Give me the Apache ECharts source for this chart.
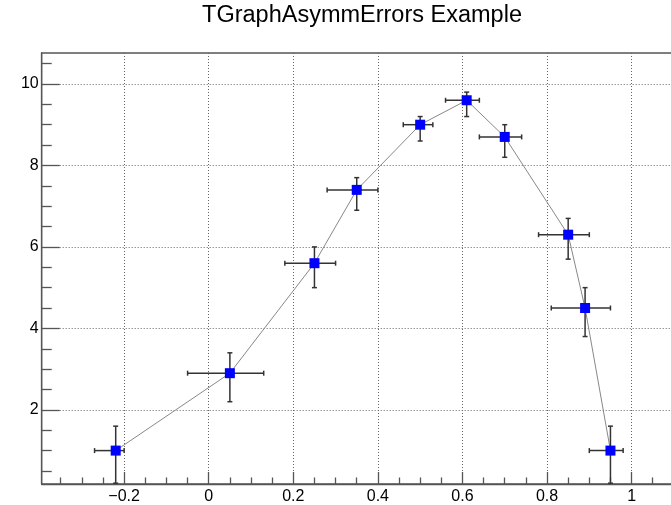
<!DOCTYPE html>
<html>
<head>
<meta charset="utf-8">
<script src="https://cdn.jsdelivr.net/npm/echarts@6/dist/echarts.min.js"></script>
<style>
  html, body { margin: 0; padding: 0; background: #fff; overflow: hidden; }
  #chart { width: 680px; height: 505px; }
</style>
</head>
<body>
<div id="chart"></div>
<script>
// Graph points with asymmetric errors
const titleText = 'TGraphAsymmErrors Example';
const xValues  = [-0.22, 0.05, 0.25, 0.35, 0.5, 0.61, 0.7, 0.85, 0.89, 0.95];
const yValues  = [1, 2.9, 5.6, 7.4, 9, 9.6, 8.7, 6.3, 4.5, 1];
const xErrLow  = [0.05, 0.1, 0.07, 0.07, 0.04, 0.05, 0.06, 0.07, 0.08, 0.05];
const xErrHigh = [0.02, 0.08, 0.05, 0.05, 0.03, 0.03, 0.04, 0.05, 0.06, 0.03];
const yErrLow  = [0.8, 0.7, 0.6, 0.5, 0.4, 0.4, 0.5, 0.6, 0.7, 0.8];
const yErrHigh = [0.6, 0.5, 0.4, 0.3, 0.2, 0.2, 0.3, 0.4, 0.5, 0.6];

// Axis ticks
const xMajorTicks = [-0.2, 0, 0.2, 0.4, 0.6, 0.8, 1];
const xMinorTicks = [-0.35, -0.3, -0.25, -0.15, -0.1, -0.05, 0.05, 0.1, 0.15,
                     0.25, 0.3, 0.35, 0.45, 0.5, 0.55, 0.65, 0.7, 0.75,
                     0.85, 0.9, 0.95, 1.05, 1.1];
const yMajorTicks = [2, 4, 6, 8, 10];
const yMinorTicks = [0.5, 1, 1.5, 2.5, 3, 3.5, 4.5, 5, 5.5, 6.5, 7, 7.5,
                     8.5, 9, 9.5, 10.5];

// Frame range
const xRange = [-0.395, 1.105];
const yRange = [0.18, 10.76];

const FONT = '"Liberation Sans", Arial, Helvetica, sans-serif';
const AXIS_COLOR = '#555';

const points = xValues.map((x, i) => [x, yValues[i]]);
const errorData = xValues.map((x, i) =>
  [x, yValues[i], xErrLow[i], xErrHigh[i], yErrLow[i], yErrHigh[i]]);

const fmt = v => String(v).replace('-', '\u2212');

function errorBars(params, api) {
  const x = api.value(0), y = api.value(1);
  const c = api.coord([x, y]);
  const left = api.coord([x - api.value(2), y]);
  const right = api.coord([x + api.value(3), y]);
  const low = api.coord([x, y - api.value(4)]);
  const high = api.coord([x, y + api.value(5)]);
  const cap = 2.5;
  const st = { stroke: '#333', lineWidth: 1.5 };
  const seg = (x1, y1, x2, y2) => ({ type: 'line', shape: { x1, y1, x2, y2 }, style: st });
  return {
    type: 'group',
    children: [
      seg(left[0], c[1], right[0], c[1]),
      seg(c[0], low[1], c[0], high[1]),
      seg(left[0], c[1] - cap, left[0], c[1] + cap),
      seg(right[0], c[1] - cap, right[0], c[1] + cap),
      seg(c[0] - cap, low[1], c[0] + cap, low[1]),
      seg(c[0] - cap, high[1], c[0] + cap, high[1])
    ]
  };
}

const chart = echarts.init(document.getElementById('chart'), null, { renderer: 'canvas' });

const tickLine = { color: AXIS_COLOR, width: 1.3 };

chart.setOption({
  animation: false,
  backgroundColor: '#fff',
  graphic: [{
    type: 'text',
    x: 362, y: 16,
    style: {
      text: titleText,
      font: '23.5px ' + FONT,
      fill: '#000',
      textAlign: 'center',
      textVerticalAlign: 'middle'
    }
  }],
  grid: {
    left: 41.7, top: 53, width: 634.3, height: 433,
    show: true, borderColor: AXIS_COLOR, borderWidth: 1.3, backgroundColor: 'transparent'
  },
  xAxis: [{
    type: 'value', min: xRange[0], max: xRange[1],
    axisLine: { onZero: false, lineStyle: tickLine },
    axisTick: { inside: true, length: 12, customValues: xMajorTicks, lineStyle: tickLine },
    axisLabel: { customValues: xMajorTicks, formatter: fmt, margin: 5,
                 color: '#000', fontSize: 16, fontFamily: FONT },
    splitLine: { show: true, lineStyle: { color: '#666', type: [1, 2], width: 1 } }
  }, {
    type: 'value', min: xRange[0], max: xRange[1], position: 'bottom',
    axisLine: { show: false, onZero: false },
    axisTick: { inside: true, length: 6.5, customValues: xMinorTicks, lineStyle: tickLine },
    axisLabel: { show: false },
    splitLine: { show: false }
  }],
  yAxis: [{
    type: 'value', min: yRange[0], max: yRange[1],
    axisLine: { onZero: false, lineStyle: tickLine },
    axisTick: { inside: true, length: 18, customValues: yMajorTicks, lineStyle: tickLine },
    axisLabel: { customValues: yMajorTicks, margin: 3,
                 color: '#000', fontSize: 16, fontFamily: FONT },
    splitLine: { show: true, lineStyle: { color: '#666', type: [1, 2], width: 1 } }
  }, {
    type: 'value', min: yRange[0], max: yRange[1], position: 'left',
    axisLine: { show: false, onZero: false },
    axisTick: { inside: true, length: 10, customValues: yMinorTicks, lineStyle: tickLine },
    axisLabel: { show: false },
    splitLine: { show: false }
  }],
  series: [{
    type: 'line',
    data: points,
    showSymbol: false,
    lineStyle: { color: '#888', width: 1 },
    z: 2
  }, {
    type: 'custom',
    data: errorData,
    renderItem: errorBars,
    encode: { x: 0, y: 1 },
    z: 3
  }, {
    type: 'scatter',
    data: points,
    symbol: 'rect',
    symbolSize: 10,
    itemStyle: { color: '#0000ff', opacity: 1 },
    z: 4
  }]
});
</script>
</body>
</html>
